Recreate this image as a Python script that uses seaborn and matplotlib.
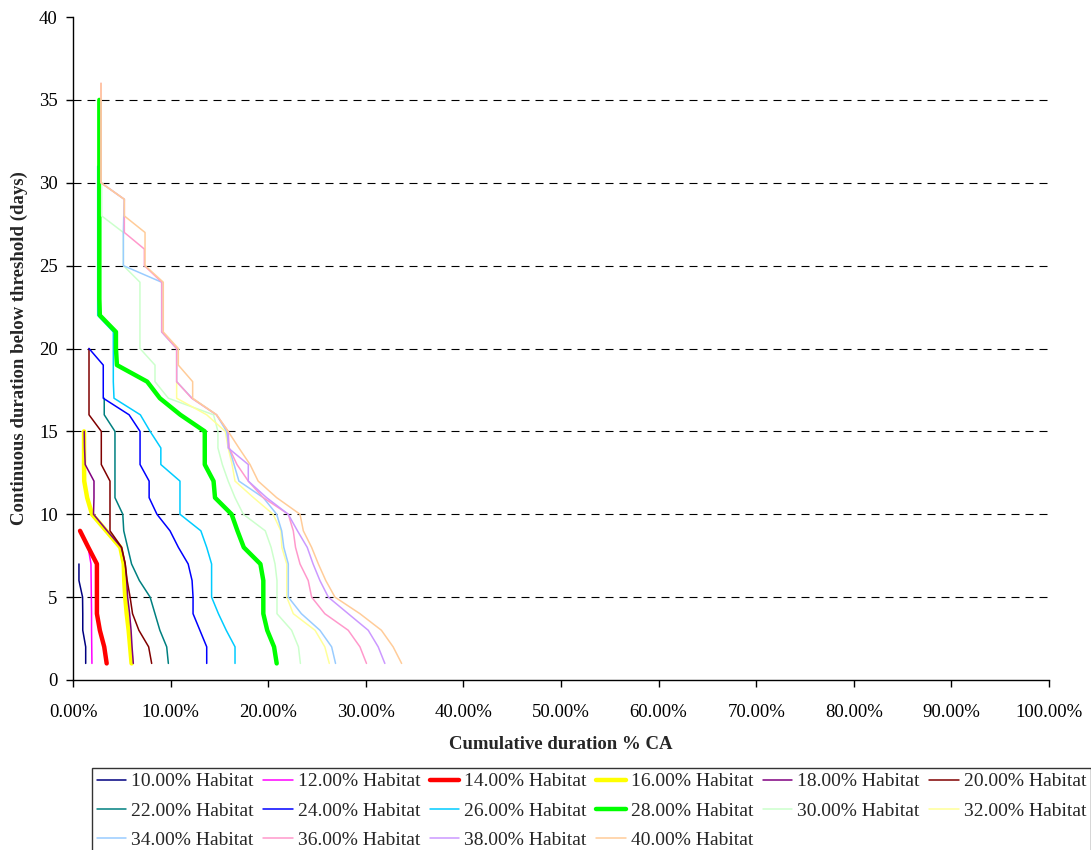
import numpy as np
import matplotlib
matplotlib.use("Agg")
import matplotlib.pyplot as plt
import seaborn as sns

# Cumulative duration (% CA) for each continuous duration (days 1..N), per habitat level
habitat_labels = ["10.00% Habitat", "12.00% Habitat", "14.00% Habitat", "16.00% Habitat",
                  "18.00% Habitat", "20.00% Habitat", "22.00% Habitat", "24.00% Habitat",
                  "26.00% Habitat", "28.00% Habitat", "30.00% Habitat", "32.00% Habitat",
                  "34.00% Habitat", "36.00% Habitat", "38.00% Habitat", "40.00% Habitat"]

h10 = [1.30, 1.30, 1.00, 1.00, 0.98, 0.61, 0.61]
h12 = [1.94, 1.92, 1.90, 1.90, 1.88, 1.86, 1.84, 1.55]
h14 = [3.45, 3.20, 2.75, 2.45, 2.45, 2.45, 2.45, 1.57, 0.72]
h16 = [6.00, 5.85, 5.70, 5.50, 5.35, 5.25, 5.20, 4.85, 3.40, 1.95, 1.45, 1.15, 1.13, 1.13, 1.13]
h18 = [6.18, 6.05, 5.95, 5.80, 5.60, 5.50, 5.35, 4.95, 3.50, 2.10, 2.15, 2.15, 1.25, 1.18, 1.15]
h20 = [8.06, 7.75, 6.75, 6.10, 5.85, 5.55, 5.35, 4.99, 3.79, 3.79, 3.79, 3.79, 2.90, 2.90, 2.90,
       1.64, 1.64, 1.64, 1.64, 1.64]
h22 = [9.77, 9.60, 8.90, 8.40, 7.90, 6.80, 6.00, 5.60, 5.20, 5.10, 4.30, 4.30, 4.30, 4.30, 4.30,
       3.20, 3.20]
h24 = [13.70, 13.70, 13.00, 12.30, 12.30, 12.20, 11.80, 10.80, 9.94, 8.60, 7.80, 7.80, 6.87, 6.87,
       6.87, 5.75, 3.10, 3.10, 3.10, 1.64]
h26 = [16.60, 16.60, 15.70, 14.90, 14.20, 14.20, 14.20, 13.70, 13.10, 10.96, 10.96, 10.96, 9.00,
       9.00, 7.90, 6.90, 4.20, 4.13, 4.13, 4.13, 4.13, 2.53, 2.53, 2.53, 2.53, 2.53, 2.53, 2.53,
       2.53, 2.53, 2.53]
h28 = [20.87, 20.60, 19.90, 19.50, 19.50, 19.50, 19.20, 17.50, 16.85, 16.25, 14.55, 14.40, 13.50,
       13.50, 13.50, 11.00, 8.90, 7.60, 4.50, 4.40, 4.40, 2.75, 2.70, 2.70, 2.70, 2.70, 2.70, 2.70,
       2.70, 2.70, 2.70, 2.70, 2.70, 2.70, 2.70]
h30 = [23.30, 23.10, 22.40, 20.90, 20.90, 20.90, 20.70, 20.30, 19.70, 17.45, 16.60, 15.90, 15.30,
       14.85, 14.85, 14.40, 9.77, 8.40, 8.40, 6.86, 6.86, 6.86, 6.86, 6.86, 5.16, 5.16, 5.16, 2.94,
       2.94, 2.94]
h32 = [26.26, 25.80, 24.80, 22.57, 21.90, 21.90, 21.90, 21.40, 21.30, 20.50, 18.50, 16.60, 16.30,
       15.90, 15.60, 13.70, 10.62, 10.62]
h34 = [26.90, 26.50, 25.30, 23.40, 22.06, 22.06, 22.06, 21.60, 21.38, 20.87, 19.50, 17.00, 16.50,
       16.00, 15.74, 14.70, 12.20, 10.62, 10.62, 10.62, 9.08, 9.08, 9.08, 9.08, 5.16, 5.16, 5.16,
       5.20, 5.26, 2.87]
h36 = [30.07, 29.40, 28.20, 25.80, 24.45, 24.10, 23.26, 22.80, 22.57, 22.06, 19.50, 17.96, 16.80,
       16.00, 15.90, 14.70, 12.16, 10.62, 10.62, 10.62, 9.10, 9.10, 9.10, 9.10, 7.31, 7.31, 5.26,
       5.26, 5.26, 2.87, 2.87, 2.87, 2.87, 2.87, 2.87, 2.87]
h38 = [31.95, 31.27, 30.25, 28.20, 26.16, 25.30, 24.60, 24.00, 23.00, 22.05, 19.84, 17.96, 17.96,
       15.90, 15.90]
h40 = [33.67, 32.80, 31.60, 29.40, 26.84, 25.90, 25.14, 24.45, 23.60, 23.26, 20.87, 18.97, 18.14,
       17.00, 15.90, 14.72, 12.26, 12.26, 10.79, 10.79, 9.25, 9.25, 9.25, 9.25, 7.38, 7.38, 7.38,
       5.26, 5.26, 2.87, 2.87, 2.87, 2.87, 2.87, 2.87, 2.87]

series = [h10, h12, h14, h16, h18, h20, h22, h24, h26, h28, h30, h32, h34, h36, h38, h40]

line_colors = ["#000080", "#FF00FF", "#FF0000", "#FFFF00", "#800080", "#800000", "#008080",
               "#0000FF", "#00CCFF", "#00FF00", "#CCFFCC", "#FFFF99", "#99CCFF", "#FF99CC",
               "#CC99FF", "#FFCC99"]
line_widths = [1.1, 1.1, 3.2, 3.2, 1.1, 1.1, 1.1, 1.1, 1.1, 3.2, 1.1, 1.1, 1.1, 1.1, 1.1, 1.1]

x_ticks = [0, 10, 20, 30, 40, 50, 60, 70, 80, 90, 100]
x_tick_labels = ["0.00%", "10.00%", "20.00%", "30.00%", "40.00%", "50.00%", "60.00%",
                 "70.00%", "80.00%", "90.00%", "100.00%"]
y_ticks = [0, 5, 10, 15, 20, 25, 30, 35, 40]
grid_levels = [5, 10, 15, 20, 25, 30, 35]

sns.set_theme(style="ticks")
plt.rcParams['font.family'] = ['Liberation Serif', 'DejaVu Serif']

fig = plt.figure(figsize=(10.91, 8.5), dpi=100)
ax = fig.add_axes([73 / 1091, 1 - 680 / 850, (1049 - 73) / 1091, (680 - 17) / 850])

for level in grid_levels:
    ax.axhline(level, color="black", linewidth=0.8, linestyle=(0, (7.2, 5.4)), zorder=1)

for label, values, color, lw in zip(habitat_labels, series, line_colors, line_widths):
    days = np.arange(1, len(values) + 1)
    sns.lineplot(x=values, y=days, sort=False, estimator=None, color=color,
                 linewidth=lw, label=label, ax=ax, zorder=3)

ax.set_xlim(0, 100)
ax.set_ylim(0, 40)
ax.set_xticks(x_ticks)
ax.set_xticklabels(x_tick_labels)
ax.set_yticks(y_ticks)
ax.tick_params(axis="both", direction="out", length=5, width=1, colors="black", labelsize=13.5)
ax.tick_params(axis="x", pad=12)
ax.tick_params(axis="y", pad=6)

for side in ["top", "right"]:
    ax.spines[side].set_visible(False)
for side in ["left", "bottom"]:
    ax.spines[side].set_color("black")
    ax.spines[side].set_linewidth(1)

ax.set_xlabel("Cumulative duration % CA", fontsize=13.5, fontweight="bold", labelpad=11)
ax.set_ylabel("Continuous duration below threshold (days)", fontsize=13.5, fontweight="bold",
              labelpad=8)

# Legend laid out row by row (matplotlib fills columns first)
handles, labels = ax.get_legend_handles_labels()
ax.get_legend().remove()
ncol = 6
nrow = int(np.ceil(len(handles) / ncol))
order = []
for c in range(ncol):
    for r in range(nrow):
        i = r * ncol + c
        if i < len(handles):
            order.append(i)
leg = fig.legend([handles[i] for i in order], [labels[i] for i in order],
                 loc="upper left", bbox_to_anchor=(92 / 1091, 1 - 768 / 850), ncol=ncol,
                 frameon=True, fancybox=False, edgecolor="black", fontsize=14,
                 handlelength=1.5, handletextpad=0.26, columnspacing=0.5,
                 labelspacing=0.6, borderpad=0.25, borderaxespad=0)
leg.get_frame().set_linewidth(1)

fig.savefig("out.png", dpi=100)
